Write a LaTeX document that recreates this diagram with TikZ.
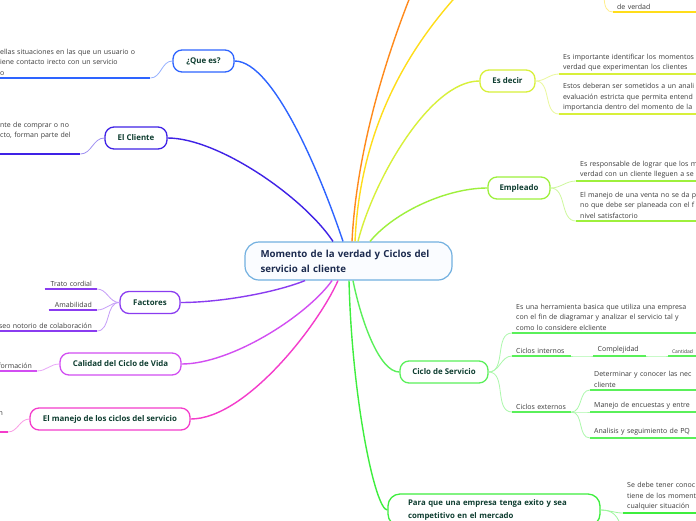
\documentclass[tikz,border=0pt]{standalone}
\usepackage{fontspec}
\setmainfont{Open Sans}
\usepackage{xcolor}
\usetikzlibrary{positioning}

\definecolor{cQue}{HTML}{2E64FF}
\definecolor{cCliente}{HTML}{3F22E6}
\definecolor{cFactores}{HTML}{8A3CF0}
\definecolor{cCalidad}{HTML}{D24EF2}
\definecolor{cManejo}{HTML}{F43CCB}
\definecolor{cOrange}{HTML}{FF8A1C}
\definecolor{cYellow}{HTML}{FFDD1A}
\definecolor{cDecir}{HTML}{D8F03A}
\definecolor{cEmpleado}{HTML}{9EF03C}
\definecolor{cCiclo}{HTML}{5AF05A}
\definecolor{cPara}{HTML}{3EEE3E}
\definecolor{rootline}{HTML}{72B0E0}
\definecolor{rootfill}{HTML}{FAFCFF}
\definecolor{nodetext}{HTML}{0E3D30}
\definecolor{roottext}{HTML}{1B2A4E}
\definecolor{leaftext}{HTML}{3C3C3C}

\tikzset{
  topic/.style={draw=#1, line width=1.3pt, rounded corners=9pt, fill=white,
    minimum height=22pt, inner xsep=6pt, font=\bfseries\fontsize{7.9}{9}\selectfont, text=nodetext},
  branch/.style={draw=#1, line width=1.4pt},
  twig/.style={draw=#1!50, line width=0.8pt},
  uline/.style={draw=#1, line width=1.3pt},
  leaf/.style={anchor=south west, align=left, inner xsep=4pt, inner ysep=2.5pt,
    font=\fontsize{7}{10.4}\selectfont, text=leaftext},
  leafleft/.style={leaf, anchor=south east, align=right, inner xsep=5pt},
}

\begin{document}
\begin{tikzpicture}[x=1pt,y=-1pt]
\useasboundingbox (0,0) rectangle (696,520);
\fill[white] (0,0) rectangle (696,520);
\clip (0,0) rectangle (696,520);

% central topic
\node[draw=rootline, line width=1.2pt, rounded corners=14pt, fill=rootfill,
  minimum width=207pt, minimum height=38pt, text width=176pt, align=left,
  font=\bfseries\fontsize{9.7}{15}\selectfont, text=roottext] (root) at (348.5,261)
  {Momento de la verdad y Ciclos del\\servicio al cliente};

% main topics
\node[topic=cQue, minimum width=61pt] (que) at (203.5,61) {¿Que es?};
\node[topic=cCliente, minimum width=62pt] (cliente) at (136,138) {El Cliente};
\node[topic=cFactores, minimum width=60pt] (factores) at (150,302.5) {Factores};
\node[topic=cCalidad, minimum width=121pt] (calidad) at (120.5,364) {Calidad del Ciclo de Vida};
\node[topic=cManejo, minimum width=160pt] (manejo) at (110,419) {El manejo de los ciclos del servicio};
\node[topic=cDecir, minimum width=55pt] (decir) at (507.5,81) {Es decir};
\node[topic=cEmpleado, minimum width=62pt] (empleado) at (519,188) {Empleado};
\node[topic=cCiclo, minimum width=88pt] (ciclo) at (444,372) {Ciclo de Servicio};
\node[topic=cPara, rounded corners=12pt, minimum width=212pt, minimum height=32pt, text width=172pt,
  align=left, font=\bfseries\fontsize{7.8}{13.5}\selectfont] (para) at (494,510)
  {Para que una empresa tenga exito y sea\\competitivo en el mercado};

% ends outside the frame
\coordinate (orangeEnd) at (412,-8);
\coordinate (yellowEnd) at (460,-8);
\coordinate (yellowTwig) at (604,-6);
\coordinate (paraDown) at (622,530);

% leaves, right side
\node[leaf, text width=200pt] (decir1) at (559,74) {Es importante identificar los momentos\\verdad que experimentan los clientes};
\node[leaf, text width=200pt] (decir2) at (559,114) {Estos deberan ser sometidos a un anali\\evaluación estricta que permita entend\\importancia dentro del momento de la};
\node[leaf, text width=200pt] (emp1) at (576,181) {Es responsable de lograr que los m\\verdad con un cliente lleguen a se};
\node[leaf, text width=200pt] (emp2) at (576,221) {El manejo de una venta no se da p\\no que debe ser planeada con el f\\nivel satisfactorio};
\node[leaf, text width=200pt] (ciclo1) at (512,333) {Es una herramienta basica que utiliza una empresa\\con el fin de diagramar y analizar el servicio tal y\\como lo considere elcliente};
\node[leaf, text width=51pt] (internos) at (512,356) {Ciclos internos};
\node[leaf, text width=44pt, right=22pt of internos.south east, anchor=south west] (complejidad) {Complejidad};
\node[leaf, text width=40pt, font=\fontsize{5}{6}\selectfont, right=22pt of complejidad.south east, anchor=south west] (cantidad) {Cantidad};
\node[leaf, text width=51pt] (externos) at (512,412) {Ciclos externos};
\node[leaf, text width=120pt] (ext1) at (590,390) {Determinar y conocer las nec\\cliente};
\node[leaf, text width=120pt] (ext2) at (590,412) {Manejo de encuestas y entre};
\node[leaf, text width=120pt] (ext3) at (590,438) {Analisis y seguimiento de PQ};
\node[leaf, text width=120pt] (para1) at (623,513) {Se debe tener conoc\\tiene de los moment\\cualquier situación};
\node[leaf, text width=120pt] (verdad) at (613,12) {de verdad};

% leaves, left side
\node[leaf, text width=150pt, inner xsep=0pt] (que1) at (0,78) {ellas situaciones en las que un usuario o\\iene contacto irecto con un servicio\\o};
\node[leaf, text width=80pt, inner xsep=0pt] (cliente1) at (0,154) {nte de comprar o no\\cto, forman parte del\\\strut};
\node[leafleft, text width=42pt] (trato) at (97,289) {Trato cordial};
\node[leafleft, text width=38pt] (amab) at (97,310) {Amabilidad};
\node[leafleft, text width=120pt] (deseo) at (97,331) {Deseo notorio de colaboración};
\node[leafleft, text width=40pt] (formacion) at (37,371) {formación};
\node[leafleft, text width=20pt] (manejo1) at (8,432) {n\\\strut};

% branches from the centre
\draw[branch=cOrange] ([xshift=3.5pt]root.north) .. controls +(5,-100) and +(-20,50) .. (orangeEnd);
\draw[branch=cYellow] ([xshift=6.5pt]root.north) .. controls +(5,-110) and +(-55,60) .. (yellowEnd);
\draw[branch=cDecir] ([xshift=9.5pt]root.north) .. controls +(15,-60) and +(-50,0) .. (decir.west);
\draw[branch=cEmpleado] ([xshift=21.5pt]root.north) .. controls +(25,-30) and +(-40,0) .. (empleado.west);
\draw[branch=cQue] ([xshift=-5.5pt]root.north) .. controls +(-20,-60) and +(40,0) .. (que.east);
\draw[branch=cCliente] ([xshift=-15.5pt]root.north) .. controls +(-30,-45) and +(50,0) .. (cliente.east);
\draw[branch=cFactores] ([xshift=-43.5pt]root.south) .. controls +(-30,12) and +(40,0) .. (factores.east);
\draw[branch=cCalidad] ([xshift=-16.5pt]root.south) .. controls +(-25,35) and +(50,0) .. (calidad.east);
\draw[branch=cManejo] ([xshift=-10.5pt]root.south) .. controls +(-20,45) and +(55,0) .. (manejo.east);
\draw[branch=cCiclo] ([xshift=4.5pt]root.south) .. controls +(8,40) and +(-20,0) .. (ciclo.west);
\draw[branch=cPara] ([xshift=0.5pt]root.south) .. controls +(3,120) and +(-12,0) .. (para.west);

% twigs
\draw[twig=cQue] (que.west) to[out=180,in=0] (que1.south east);
\draw[twig=cCliente] (cliente.west) to[out=180,in=0] (cliente1.south east);
\draw[twig=cFactores] (factores.west) to[out=180,in=0] (trato.south east);
\draw[twig=cFactores] (factores.west) to[out=180,in=0] (amab.south east);
\draw[twig=cFactores] (factores.west) to[out=180,in=0] (deseo.south east);
\draw[twig=cCalidad] (calidad.west) to[out=180,in=0] (formacion.south east);
\draw[twig=cManejo] (manejo.west) to[out=180,in=0] (manejo1.south east);
\draw[twig=cYellow] (yellowTwig) .. controls +(0,14) and +(-6,0) .. (verdad.south west);
\draw[twig=cDecir] (decir.east) to[out=0,in=180] (decir1.south west);
\draw[twig=cDecir] (decir.east) to[out=0,in=180] (decir2.south west);
\draw[twig=cEmpleado] (empleado.east) to[out=0,in=180] (emp1.south west);
\draw[twig=cEmpleado] (empleado.east) to[out=0,in=180] (emp2.south west);
\draw[twig=cCiclo] (ciclo.east) to[out=0,in=180] (ciclo1.south west);
\draw[twig=cCiclo] (ciclo.east) to[out=0,in=180] (internos.south west);
\draw[twig=cCiclo] (ciclo.east) to[out=0,in=180] (externos.south west);
\draw[twig=cCiclo] (internos.south east) to[out=0,in=180] (complejidad.south west);
\draw[twig=cCiclo] (complejidad.south east) to[out=0,in=180] (cantidad.south west);
\draw[twig=cCiclo] (externos.south east) to[out=0,in=180] (ext1.south west);
\draw[twig=cCiclo] (externos.south east) to[out=0,in=180] (ext2.south west);
\draw[twig=cCiclo] (externos.south east) to[out=0,in=180] (ext3.south west);
\draw[twig=cPara] (para.east) to[out=0,in=180] (para1.south west);
\draw[twig=cPara] (para.east) .. controls +(12,0) and +(-4,-15) .. (paraDown);

% underlines
\foreach \n/\c in {que1/cQue, cliente1/cCliente, trato/cFactores, amab/cFactores, deseo/cFactores,
  formacion/cCalidad, manejo1/cManejo, verdad/cYellow, decir1/cDecir, decir2/cDecir,
  emp1/cEmpleado, emp2/cEmpleado, ciclo1/cCiclo, internos/cCiclo, complejidad/cCiclo,
  cantidad/cCiclo, externos/cCiclo, ext1/cCiclo, ext2/cCiclo, ext3/cCiclo, para1/cPara}
  \draw[uline=\c] (\n.south west) -- (\n.south east);

\end{tikzpicture}
\end{document}
